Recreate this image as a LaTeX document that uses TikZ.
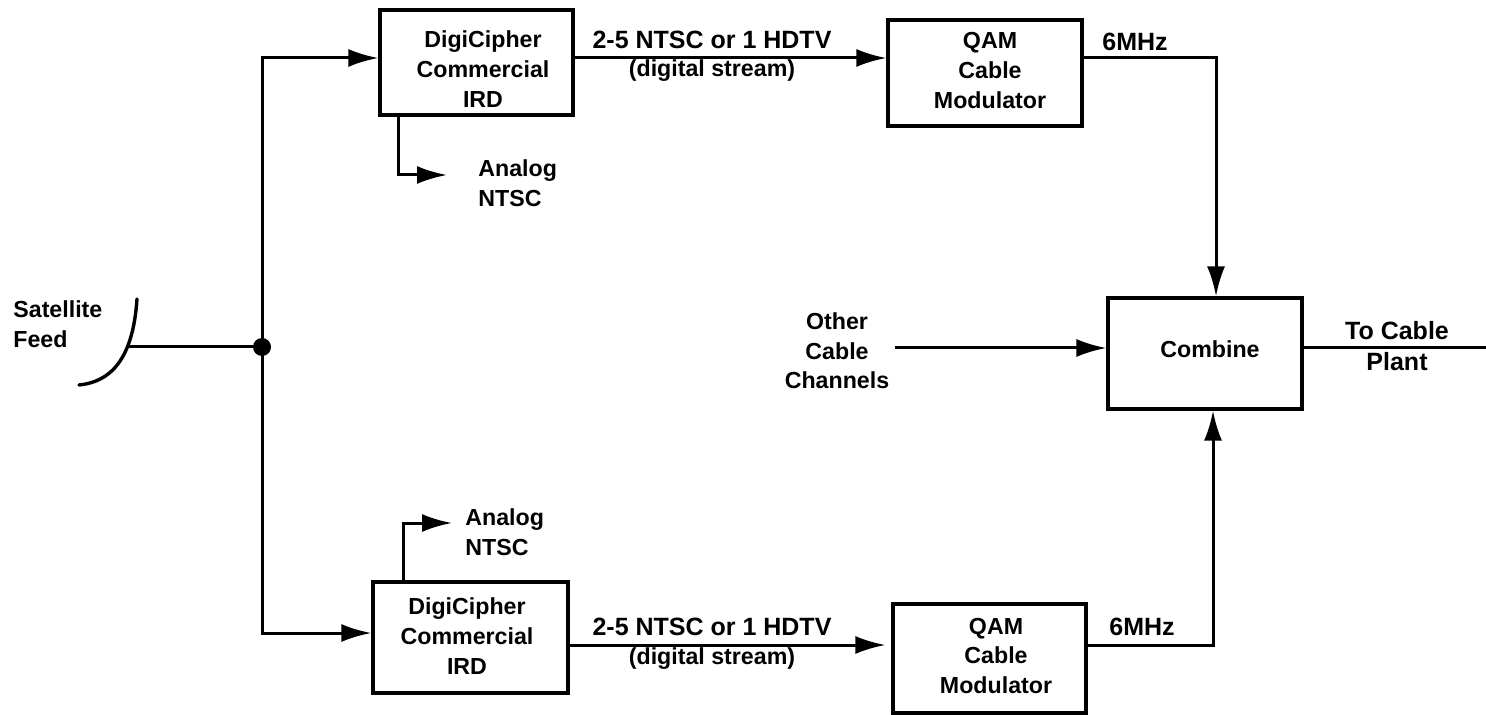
\documentclass[tikz,border=0pt]{standalone}
\usepackage{fontspec}
\setmainfont{Liberation Sans}
\usetikzlibrary{arrows.meta}
\tikzset{
  blockbox/.style={draw, line width=1.6pt},
  lbl/.style={align=center, inner sep=0pt, font=\bfseries\fontsize{11.6}{14.8}\selectfont},
  lblbig/.style={lbl, font=\bfseries\fontsize{12.5}{15.5}\selectfont},
  wire/.style={line width=1.5pt},
  arr/.style={wire, -{Latex[length=15pt,width=9pt]}},
}
\begin{document}
\begin{tikzpicture}[x=0.5pt, y=-0.5pt]
  \useasboundingbox (0,0) rectangle (1486,715);
  % blocks
  \node[blockbox, minimum width=96.5pt, minimum height=52.5pt] (irdtop) at (476.5,62.5) {};
  \node[blockbox, minimum width=97pt, minimum height=53pt] (qamtop) at (985,73) {};
  \node[blockbox, minimum width=97.5pt, minimum height=55.5pt] (irdbot) at (470.5,637.5) {};
  \node[blockbox, minimum width=96.5pt, minimum height=54.5pt] (qambot) at (989.5,658.5) {};
  \node[blockbox, minimum width=97pt, minimum height=55.5pt] (combine) at (1205,353.5) {};
  % free ends
  \coordinate (junction) at (262,347);
  \coordinate (dish) at (127,347);
  \coordinate (plant) at (1486,348);
  \coordinate (othersrc) at (895,348);
  \coordinate (antop) at (447,175);
  \coordinate (anbot) at (452,523);
  % dish
  \draw[wire, line width=1.7pt, line cap=round] (137,299) .. controls (133,360) and (110,382) .. (79,385);
  % wires
  \draw[wire] (dish) -- (junction);
  \fill (junction) circle (9);
  \draw[arr] (junction) |- (irdtop.west |- 0,58);
  \draw[arr] (junction) |- (irdbot.west |- 0,633);
  \draw[arr] (irdtop.east |- 0,58) -- (qamtop.west |- 0,58);
  \draw[arr, shorten >=3pt] (irdbot.east |- 0,645) -- (qambot.west |- 0,645);
  \draw[arr] (qamtop.east |- 0,58) -| (combine.north -| 1216,0);
  \draw[arr] (qambot.east |- 0,645) -| (combine.south -| 1213,0);
  \draw[arr] (othersrc) -- (combine.west |- othersrc);
  \draw[wire] (combine.east |- plant) -- (plant);
  \draw[arr] (irdtop.south -| 398,0) |- (antop);
  \draw[arr] (irdbot.north -| 403,0) |- (anbot);
  % labels
  \node[lbl, align=left, anchor=west] (sat) at (13,324) {Satellite\\Feed};
  \node[lbl] (irdtoptxt) at (483,69) {DigiCipher\\Commercial\\IRD};
  \node[lbl] (qamtoptxt) at (990,70.5) {QAM\\Cable\\Modulator};
  \node[lbl] (irdbottxt) at (467,636) {DigiCipher\\Commercial\\IRD};
  \node[lbl] (qambottxt) at (996,656) {QAM\\Cable\\Modulator};
  \node[lbl] (combinetxt) at (1210,349) {Combine};
  \node[lbl, align=left, anchor=west] (an1) at (478,183) {Analog\\NTSC};
  \node[lbl, align=left, anchor=west] (an2) at (465,532) {Analog\\NTSC};
  \node[lblbig] (rate1) at (712,40) {2-5 NTSC or 1 HDTV};
  \node[lbl] (strm1) at (712,71) {(digital stream)};
  \node[lblbig] (rate2) at (712,627) {2-5 NTSC or 1 HDTV};
  \node[lbl] (strm2) at (712,659) {(digital stream)};
  \node[lblbig] (mhz1) at (1135,42) {6MHz};
  \node[lblbig] (mhz2) at (1142,627) {6MHz};
  \node[lbl] (other) at (837,351) {Other\\Cable\\Channels};
  \node[lblbig] (toplant) at (1397,346) {To Cable\\Plant};
\end{tikzpicture}
\end{document}
